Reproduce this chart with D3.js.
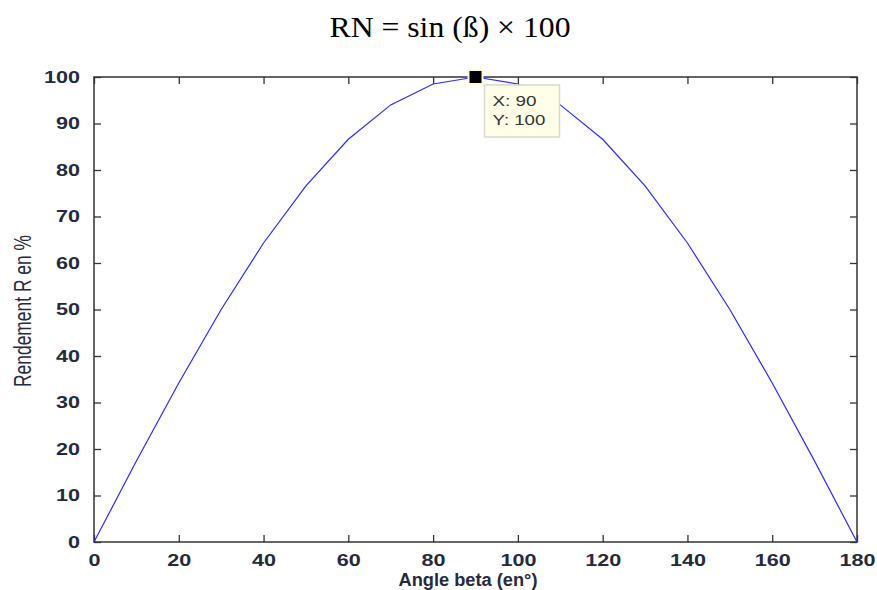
<!DOCTYPE html>
<html>
<head>
<meta charset="utf-8">
<script src="https://cdn.jsdelivr.net/npm/d3@7"></script>
<style>
  body { margin: 0; background: #fff; }
  svg { display: block; }
</style>
</head>
<body>
<div id="chart"></div>
<script>
// values, one every 10°
const angles = [0, 10, 20, 30, 40, 50, 60, 70, 80, 90, 100, 110, 120, 130, 140, 150, 160, 170, 180];
const rendement = [0, 17.4, 34.2, 50, 64.3, 76.6, 86.6, 94, 98.5, 100, 98.5, 94, 86.6, 76.6, 64.3, 50, 34.2, 17.4, 0];
const xTicks = [0, 20, 40, 60, 80, 100, 120, 140, 160, 180];
const yTicks = [0, 10, 20, 30, 40, 50, 60, 70, 80, 90, 100];
const tip = { x: 90, y: 100, lines: ["X: 90", "Y: 100"] };

const W = 877, H = 590;
const margins = { top: 77, right: 20, bottom: 48, left: 94 };
const width = W - margins.left - margins.right;
const height = H - margins.top - margins.bottom;
const ink = "#262a40";
const tickLen = 7;
const sans = "'Liberation Sans', Arial, sans-serif";

const svg = d3.select("#chart").append("svg")
  .attr("width", W).attr("height", H);

svg.append("text")
  .attr("x", 450).attr("y", 37)
  .attr("text-anchor", "middle")
  .attr("textLength", 241).attr("lengthAdjust", "spacingAndGlyphs")
  .style("font-family", "'Liberation Serif', 'Times New Roman', serif")
  .style("font-size", "30px")
  .text("RN = sin (ß) × 100");

const g = svg.append("g").attr("transform", `translate(${margins.left},${margins.top})`);

const x = d3.scaleLinear().domain([0, 180]).range([0, width]);
const y = d3.scaleLinear().domain([0, 100]).range([height, 0]);

// axes with inward ticks, labels stretched like the matlab export
const styleAxis = (sel) => {
  sel.select(".domain").remove();
  sel.selectAll(".tick line").attr("stroke", "#333").attr("stroke-width", 1.3);
  sel.selectAll("text")
    .attr("fill", ink)
    .attr("textLength", d => String(d).length * 12)
    .attr("lengthAdjust", "spacingAndGlyphs")
    .style("font-family", sans)
    .style("font-weight", "bold")
    .style("font-size", "17px");
};

g.append("g").attr("transform", `translate(0,${height})`)
  .call(d3.axisBottom(x).tickValues(xTicks).tickSizeInner(-tickLen).tickSizeOuter(0).tickPadding(tickLen + 5))
  .call(styleAxis);
g.append("g")
  .call(d3.axisTop(x).tickValues(xTicks).tickSizeInner(-tickLen).tickSizeOuter(0).tickFormat(""))
  .call(styleAxis);
g.append("g")
  .call(d3.axisLeft(y).tickValues(yTicks).tickSizeInner(-tickLen).tickSizeOuter(0).tickPadding(tickLen + 7))
  .call(styleAxis);
g.append("g").attr("transform", `translate(${width},0)`)
  .call(d3.axisRight(y).tickValues(yTicks).tickSizeInner(-tickLen).tickSizeOuter(0).tickFormat(""))
  .call(styleAxis);

g.append("rect")
  .attr("width", width).attr("height", height)
  .attr("fill", "none").attr("stroke", "#333").attr("stroke-width", 1.5);

const line = d3.line().x((d, i) => x(angles[i])).y(d => y(d));
g.append("path")
  .datum(rendement)
  .attr("fill", "none")
  .attr("stroke", "#2a2aff")
  .attr("stroke-width", 1.2)
  .attr("d", line);

// data tip
const tx = x(tip.x), ty = y(tip.y);
g.append("rect")
  .attr("x", tx - 7).attr("y", ty - 7).attr("width", 14).attr("height", 14)
  .attr("fill", "#000").attr("stroke", "#fffbd0").attr("stroke-width", 2);

const box = g.append("g").attr("transform", `translate(${tx + 9},${ty + 8})`);
box.append("rect")
  .attr("width", 75).attr("height", 52)
  .attr("fill", "#ffffe8").attr("stroke", "#d8d8d0").attr("stroke-width", 1.5);
box.selectAll("text").data(tip.lines).join("text")
  .attr("x", 8).attr("y", (d, i) => 21 + i * 19)
  .attr("textLength", d => d.length * 8.8)
  .attr("lengthAdjust", "spacingAndGlyphs")
  .attr("fill", "#333")
  .style("font-family", sans)
  .style("font-size", "15px")
  .text(d => d);

// axis titles
svg.append("text")
  .attr("x", 468).attr("y", 586)
  .attr("text-anchor", "middle")
  .attr("textLength", 139).attr("lengthAdjust", "spacingAndGlyphs")
  .attr("fill", ink)
  .style("font-family", sans)
  .style("font-size", "18px")
  .style("font-weight", "bold")
  .text("Angle beta (en°)");

svg.append("text")
  .attr("transform", `translate(31,311) rotate(-90)`)
  .attr("text-anchor", "middle")
  .attr("textLength", 152).attr("lengthAdjust", "spacingAndGlyphs")
  .attr("fill", ink)
  .style("font-family", sans)
  .style("font-size", "23px")
  .text("Rendement R en %");
</script>
</body>
</html>
